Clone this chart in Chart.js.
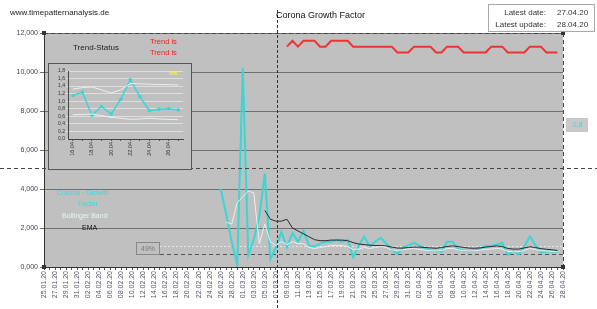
<!DOCTYPE html>
<html><head><meta charset="utf-8">
<script src="https://cdn.jsdelivr.net/npm/chart.js@4/dist/chart.umd.min.js"></script>
<style>
html,body{margin:0;padding:0;background:#fff;}
#wrap{position:relative;width:597px;height:309px;overflow:hidden;font-family:"Liberation Sans",Arial,sans-serif;}
#main{position:absolute;left:0;top:0;}
.t{position:absolute;white-space:nowrap;line-height:1;}
#inset{position:absolute;left:48px;top:63px;width:144px;height:107px;box-sizing:border-box;border:1px solid #555;background:#c0c0c0;}
#insetc{position:absolute;left:0;top:0;}
#info{position:absolute;left:488px;top:4px;width:107px;height:28px;box-sizing:border-box;border:1px solid #aaa;background:#fff;}
</style></head>
<body><div id="wrap">
<canvas id="main" width="597" height="309"></canvas>
<div class="t" style="left:10px;top:9px;font-size:8px;color:#222;">www.timepatternanalysis.de</div>
<div class="t" style="left:276px;top:11px;font-size:9px;color:#111;">Corona Growth Factor</div>
<div id="info">
 <div class="t" style="right:48px;top:4px;font-size:8px;color:#333;">Latest date:</div>
 <div class="t" style="left:68px;top:4px;font-size:8px;color:#333;">27.04.20</div>
 <div class="t" style="right:48px;top:16px;font-size:8px;color:#333;">Latest update:</div>
 <div class="t" style="left:68px;top:16px;font-size:8px;color:#333;">28.04.20</div>
</div>
<div class="t" style="left:150px;top:38px;font-size:7.5px;color:#ee2222;">Trend is</div>
<div class="t" style="left:150px;top:49px;font-size:7.5px;color:#ee2222;">Trend is</div>
<div class="t" style="left:73px;top:44px;font-size:8px;color:#222;">Trend-Status</div>
<div id="inset"><canvas id="insetc" width="142" height="105"></canvas>
 <div class="t" style="left:120px;top:6px;font-size:6px;color:#ffff00;font-weight:bold;">0%</div>
</div>
<div class="t" style="left:57px;top:189px;font-size:7px;color:#33dddd;">Corona - Growth</div>
<div class="t" style="left:78px;top:200px;font-size:7px;color:#33dddd;">Factor</div>
<div class="t" style="left:62px;top:212px;font-size:7px;color:#e4f6f6;">Bollinger Band</div>
<div class="t" style="left:82px;top:224px;font-size:7px;color:#111;">EMA</div>
<div class="t" style="left:136px;top:242px;width:24px;height:13px;box-sizing:border-box;border:1px solid #888;font-size:7px;color:#777;text-align:center;padding-top:2px;">49%</div>
<div class="t" style="left:566px;top:118px;width:22px;height:14px;background:#c8c8c8;font-size:7px;color:#33dddd;text-align:center;padding-top:3px;box-sizing:border-box;">0,8</div>
</div>
<script>
// ---------- data ----------
const startDate = new Date(2020, 0, 25);
const dayCount = 95; // 25.01.20 .. 28.04.20
const dateLabels = [];
for (let i = 0; i < dayCount; i++) {
  const d = new Date(startDate.getTime()); d.setDate(d.getDate() + i);
  const dd = String(d.getDate()).padStart(2, '0'), mm = String(d.getMonth() + 1).padStart(2, '0');
  dateLabels.push(dd + '.' + mm + '.20');
}
const yTicks = [0, 2, 4, 6, 8, 10, 12];

const growthStart = 32;
const growthValues = [4.0, 2.7, 1.3, 0.1, 10.2, 0.6, 1.4, 2.6, 4.8, 0.4,
  1.0, 1.8, 1.0, 1.75, 1.3, 1.85, 1.1, 1.05, 1.2, 1.3,
  1.3, 1.4, 1.3, 1.4, 0.5, 1.1, 1.55, 1.05, 1.3, 1.5,
  1.2, 0.9, 0.67, 1.0, 1.1, 1.25, 1.1, 0.96, 0.85, 0.82,
  0.79, 1.3, 1.3, 0.91, 0.85, 0.79, 0.87, 0.95, 1.08, 1.08,
  1.15, 1.24, 0.63, 0.8, 0.66, 1.05, 1.57, 1.12, 0.75, 0.79,
  0.8, 0.77];

const bandStart = 33;
const bandValues = [2.3, 2.2, 3.3, 3.6, 3.9, 3.8, 1.2, 2.2, 1.3,
  1.1, 1.3, 1.15, 1.3, 1.2, 1.2, 1.0, 0.95, 1.0, 1.05,
  1.1, 1.1, 1.1, 1.05, 0.9, 0.92, 1.0, 0.95, 1.0, 1.05,
  1.0, 0.88, 0.85, 0.88, 0.92, 0.95, 0.9, 0.87, 0.84, 0.82,
  0.85, 0.95, 0.95, 0.88, 0.84, 0.82, 0.84, 0.87, 0.9, 0.92,
  0.95, 0.92, 0.8, 0.78, 0.78, 0.85, 0.95, 0.9, 0.84, 0.82,
  0.8, 0.78];

const emaStart = 40;
const emaValues = [2.9, 2.45, 2.35, 2.35, 2.45, 2.0, 1.85, 1.7, 1.55, 1.4,
  1.35, 1.35, 1.38, 1.38, 1.38, 1.35, 1.25, 1.18, 1.15, 1.12,
  1.1, 1.1, 1.08, 1.02, 0.97, 0.97, 1.0, 1.02, 1.02, 1.0,
  0.98, 0.96, 1.0, 1.05, 1.08, 1.05, 1.0, 0.97, 0.96, 0.98,
  1.02, 1.05, 1.08, 1.05, 0.95, 0.92, 0.92, 0.98, 1.04, 1.0,
  0.94, 0.91, 0.88, 0.85];

const trendStart = 44;
const trendValues = [11.3, 11.6, 11.3, 11.6, 11.6, 11.6, 11.3, 11.3, 11.6, 11.6,
  11.6, 11.6, 11.3, 11.3, 11.3, 11.3, 11.3, 11.3, 11.3, 11.3,
  11.0, 11.0, 11.0, 11.3, 11.3, 11.3, 11.3, 11.0, 11.0, 11.3,
  11.3, 11.3, 11.0, 11.0, 11.0, 11.0, 11.0, 11.3, 11.3, 11.3,
  11.0, 11.0, 11.0, 11.0, 11.3, 11.3, 11.3, 11.0, 11.0, 11.0];

const refLevelUpper = 1.08;   // light dotted reference
const refLevelLower = 0.68;   // dark dashed reference
const refLevelWide = 5.1;     // full-width dashed line
const markerIndex = 42.2;     // vertical dashed marker

// inset
const insetLabels = ['16.04','17.04','18.04','19.04','20.04','21.04','22.04','23.04','24.04','25.04','26.04','27.04'];
const insetTicks = [0, 0.2, 0.4, 0.6, 0.8, 1.0, 1.2, 1.4, 1.6, 1.8];
const insetGrowth = [1.15, 1.24, 0.63, 0.86, 0.66, 1.05, 1.57, 1.12, 0.75, 0.79, 0.8, 0.77];
const insetUpper = [1.32, 1.36, 1.38, 1.3, 1.22, 1.3, 1.47, 1.46, 1.45, 1.44, 1.44, 1.43];
const insetLower = [0.64, 0.65, 0.66, 0.62, 0.57, 0.55, 0.52, 0.53, 0.55, 0.53, 0.52, 0.51];

function pad(start, vals) {
  const out = new Array(dayCount).fill(null);
  vals.forEach((v, i) => { if (start + i < dayCount) out[start + i] = v; });
  return out;
}
const fmt3 = v => Number(v).toFixed(3).replace('.', ',');
const fmt1 = v => Number(v).toFixed(1).replace('.', ',');

const bgPlugin = {
  id: 'bg',
  beforeDraw(c, a, o) {
    const {ctx, chartArea: ca} = c;
    ctx.save(); ctx.fillStyle = o.color || '#c0c0c0';
    ctx.fillRect(ca.left, ca.top, ca.right - ca.left, ca.bottom - ca.top);
    ctx.restore();
  }
};

const overlayPlugin = {
  id: 'overlay',
  beforeDatasetsDraw(c) {
    const {ctx, chartArea: ca, scales: {x, y}} = c;
    ctx.save();
    let yy = Math.round(y.getPixelForValue(refLevelUpper)) + 0.5;
    ctx.strokeStyle = '#e6e6e6'; ctx.lineWidth = 1; ctx.setLineDash([2, 2]);
    ctx.beginPath(); ctx.moveTo(160, yy); ctx.lineTo(ca.right, yy); ctx.stroke();
    yy = Math.round(y.getPixelForValue(refLevelLower)) + 0.5;
    ctx.strokeStyle = '#555'; ctx.setLineDash([4, 3]);
    ctx.beginPath(); ctx.moveTo(160, yy); ctx.lineTo(ca.right, yy); ctx.stroke();
    ctx.restore();
  },
  afterDraw(c) {
    const {ctx, chartArea: ca, scales: {x, y}} = c;
    ctx.save();
    ctx.strokeStyle = '#444'; ctx.lineWidth = 1; ctx.setLineDash([4, 3]);
    ctx.beginPath(); ctx.moveTo(ca.left, ca.top + 0.5); ctx.lineTo(ca.right, ca.top + 0.5); ctx.stroke();
    ctx.beginPath(); ctx.moveTo(ca.right + 0.5, ca.top); ctx.lineTo(ca.right + 0.5, ca.bottom); ctx.stroke();
    const yw = Math.round(y.getPixelForValue(refLevelWide)) + 0.5;
    ctx.beginPath(); ctx.moveTo(0, yw); ctx.lineTo(c.width, yw); ctx.stroke();
    const xm = Math.round(x.getPixelForValue(markerIndex)) + 0.5;
    ctx.strokeStyle = '#333'; ctx.setLineDash([3, 2]);
    ctx.beginPath(); ctx.moveTo(xm, 10); ctx.lineTo(xm, c.height); ctx.stroke();
    ctx.setLineDash([]);
    ctx.fillStyle = '#333';
    [[ca.left, ca.top], [ca.right, ca.top], [ca.right, ca.bottom], [ca.left, ca.bottom]].forEach(p => ctx.fillRect(p[0] - 2, p[1] - 2, 4, 4));
    ctx.restore();
  }
};

new Chart(document.getElementById('main'), {
  type: 'line',
  data: {
    labels: dateLabels,
    datasets: [
      {data: pad(bandStart, bandValues), borderColor: '#e8f0f0', borderWidth: 1, pointRadius: 0},
      {data: pad(emaStart, emaValues), borderColor: '#2a2a2a', borderWidth: 1, pointRadius: 0},
      {data: pad(growthStart, growthValues), borderColor: '#3ad6d6', borderWidth: 2, pointRadius: 0},
      {data: pad(trendStart, trendValues), borderColor: '#ee3333', borderWidth: 2, pointRadius: 0}
    ]
  },
  options: {
    responsive: false, animation: false,
    layout: {padding: {top: 33, right: 34, left: 0, bottom: 0}},
    plugins: {legend: {display: false}, tooltip: {enabled: false}, bg: {color: '#c0c0c0'}},
    scales: {
      x: {
        offset: false,
        afterFit: s => { s.height = 42; },
        grid: {display: true, drawOnChartArea: false, color: '#555', tickLength: 3},
        border: {color: '#333'},
        ticks: {
          autoSkip: false, maxRotation: 90, minRotation: 90, padding: 1,
          font: {size: 7, family: '"Liberation Sans", Arial'}, color: '#556',
          callback: (v, i) => (i % 2 === 0 ? dateLabels[i] : '')
        }
      },
      y: {
        min: 0, max: 12,
        afterFit: s => { s.width = 44; },
        afterBuildTicks: s => { s.ticks = yTicks.map(v => ({value: v})); },
        grid: {color: '#707070', lineWidth: 1, tickLength: 4},
        border: {color: '#333'},
        ticks: {font: {size: 7, family: '"Liberation Sans", Arial'}, color: '#445', padding: 2, callback: v => fmt3(v)}
      }
    }
  },
  plugins: [bgPlugin, overlayPlugin]
});

new Chart(document.getElementById('insetc'), {
  type: 'line',
  data: {
    labels: insetLabels,
    datasets: [
      {data: insetUpper, borderColor: '#e8f0f0', borderWidth: 1, pointRadius: 0},
      {data: insetLower, borderColor: '#e8f0f0', borderWidth: 1, pointRadius: 0},
      {data: insetGrowth, borderColor: '#3ad6d6', borderWidth: 1.5, pointRadius: 1.8, pointBackgroundColor: '#3ad6d6', pointBorderWidth: 0}
    ]
  },
  options: {
    responsive: false, animation: false,
    layout: {padding: {top: 7, right: 8, left: 0, bottom: 0}},
    plugins: {legend: {display: false}, tooltip: {enabled: false}, bg: {color: '#c0c0c0'}},
    scales: {
      x: {
        offset: true,
        afterFit: s => { s.height = 30; },
        grid: {display: true, drawOnChartArea: false, color: '#555', tickLength: 2},
        border: {color: '#444'},
        ticks: {autoSkip: false, maxRotation: 90, minRotation: 90, padding: 1,
          font: {size: 5.5, family: '"Liberation Sans", Arial'}, color: '#333',
          callback: (v, i) => (i % 2 === 0 ? insetLabels[i] : '')}
      },
      y: {
        min: 0, max: 1.8,
        afterFit: s => { s.width = 19; },
        afterBuildTicks: s => { s.ticks = insetTicks.map(v => ({value: v})); },
        ticks: {autoSkip: false, font: {size: 5, family: '"Liberation Sans", Arial'}, color: '#333', padding: 1, callback: v => fmt1(v)},
        grid: {color: '#dedede', lineWidth: 1, tickLength: 2},
        border: {color: '#444'}
      }
    }
  },
  plugins: [bgPlugin]
});
</script>
</body></html>
